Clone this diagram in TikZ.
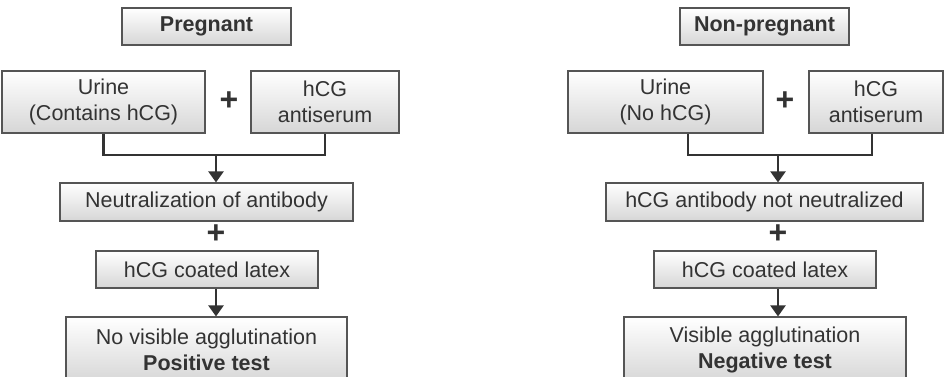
\documentclass[tikz,border=0pt]{standalone}
\usepackage{fontspec}
\setmainfont{Liberation Sans}
\usepackage{xcolor}
\usetikzlibrary{arrows.meta,positioning,calc}
\definecolor{inkgray}{HTML}{333333}
\definecolor{rulegray}{HTML}{555555}

\begin{document}
\begin{tikzpicture}[x=1pt, y=-1pt,
  stage/.style={draw=rulegray, line width=1.1pt, rectangle, top color=white, bottom color=gray!32,
    text=inkgray, font=\fontsize{21.5}{25.5}\selectfont, align=center, inner sep=0pt},
  title/.style={stage, font=\fontsize{21.5}{25.5}\selectfont\bfseries},
  plus/.style={text=inkgray, font=\fontsize{32}{32}\selectfont\bfseries, inner sep=0pt},
  link/.style={draw=inkgray, line width=2.2pt},
  ptr/.style={link, -{Triangle[width=15pt,length=11pt]}}
]
\useasboundingbox (0,0) rectangle (944,377);
\clip (0,0) rectangle (944,377);

% pregnant side
\node[title, minimum width=169pt, minimum height=37pt] (preg) at (206.5,26.5) {Pregnant};
\node[stage, minimum width=203pt, minimum height=62pt] (urineA) at (103.5,102) {Urine\\(Contains hCG)};
\node[stage, minimum width=148pt, minimum height=62pt] (serumA) at (325,102) {hCG\\antiserum};
\node[plus] (plusA1) at (229,101) {+};
\node[stage, minimum width=293pt, minimum height=38pt] (neutA) at (206.5,202) {Neutralization of antibody};
\node[plus] (plusA2) at (216,234) {+};
\node[stage, minimum width=222pt, minimum height=37pt] (latexA) at (207,269.5) {hCG coated latex};
\node[stage, minimum width=281pt, minimum height=66pt] (resultA) at (206.5,350) {No visible agglutination\\\textbf{Positive test}};
\coordinate (joinA) at (216,155);
\draw[link] (urineA.south) |- (joinA) -| (serumA.south);
\draw[ptr] (joinA) -- (joinA |- neutA.north);
\draw[ptr] (latexA.south -| joinA) -- (resultA.north -| joinA);

% non-pregnant side
\node[title, minimum width=169pt, minimum height=37pt] (nonpreg) at (764.5,26.5) {Non-pregnant};
\node[stage, minimum width=195pt, minimum height=62pt] (urineB) at (665.5,102) {Urine\\(No hCG)};
\node[stage, minimum width=134pt, minimum height=62pt] (serumB) at (876,102) {hCG\\antiserum};
\node[plus] (plusB1) at (785,101) {+};
\node[stage, minimum width=317pt, minimum height=38pt] (neutB) at (764.5,202) {hCG antibody not neutralized};
\node[plus] (plusB2) at (778,234) {+};
\node[stage, minimum width=222pt, minimum height=37pt] (latexB) at (765,269.5) {hCG coated latex};
\node[stage, minimum width=282pt, minimum height=66pt] (resultB) at (765,350) {Visible agglutination\\\textbf{Negative test}};
\coordinate (joinB) at (778,155);
\draw[link] ([xshift=22.5pt]urineB.south) |- (joinB) -| ([xshift=-4pt]serumB.south);
\draw[ptr] (joinB) -- (joinB |- neutB.north);
\draw[ptr] (latexB.south -| joinB) -- (resultB.north -| joinB);
\end{tikzpicture}
\end{document}
